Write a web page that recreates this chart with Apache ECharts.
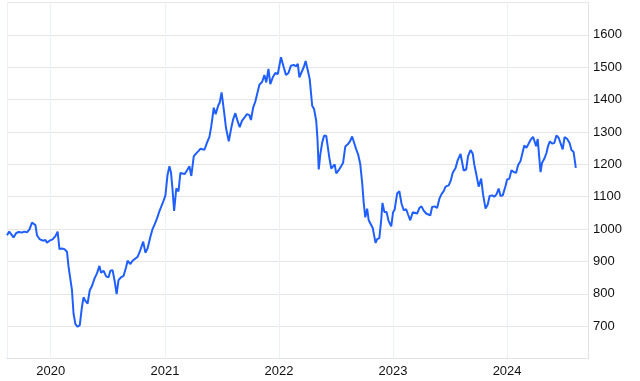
<!DOCTYPE html>
<html>
<head>
<meta charset="utf-8">
<script src="https://cdn.jsdelivr.net/npm/echarts@6/dist/echarts.min.js"></script>
<style>
html,body{margin:0;padding:0;background:#fff;}
#chart{width:640px;height:381px;}
</style>
</head>
<body>
<div id="chart"></div>
<script>
const dates = [
'2019-08-14','2019-08-21','2019-09-04','2019-09-12','2019-09-20','2019-09-26','2019-10-01','2019-10-08','2019-10-17','2019-10-25',
'2019-11-02','2019-11-07','2019-11-13','2019-11-18','2019-11-26','2019-12-07','2019-12-15','2019-12-20','2019-12-28',
'2020-01-07','2020-01-16','2020-01-23','2020-01-29','2020-02-06','2020-02-14','2020-02-22','2020-02-27','2020-03-04','2020-03-09',
'2020-03-14','2020-03-20','2020-03-27','2020-04-03','2020-04-10','2020-04-15','2020-04-21','2020-04-28','2020-05-05','2020-05-12',
'2020-05-20','2020-05-28','2020-06-05','2020-06-10','2020-06-18','2020-06-27','2020-07-04','2020-07-10','2020-07-17','2020-07-24',
'2020-07-30','2020-08-05','2020-08-13','2020-08-21','2020-08-29','2020-09-03','2020-09-12','2020-09-19','2020-09-28','2020-10-05',
'2020-10-12','2020-10-23','2020-10-30','2020-11-06','2020-11-15','2020-11-22','2020-11-29','2020-12-06','2020-12-15','2020-12-24',
'2021-01-02','2021-01-09','2021-01-15','2021-01-20','2021-01-25','2021-01-30','2021-02-06','2021-02-13','2021-02-19','2021-02-25',
'2021-03-05','2021-03-12','2021-03-20','2021-03-26','2021-04-03','2021-04-10','2021-04-17','2021-04-24','2021-04-30','2021-05-07',
'2021-05-15','2021-05-23','2021-05-29','2021-06-06','2021-06-12','2021-06-20','2021-06-25','2021-07-01','2021-07-08','2021-07-15',
'2021-07-24','2021-07-31','2021-08-07','2021-08-14','2021-08-21','2021-08-28','2021-09-04','2021-09-12','2021-09-20','2021-09-28',
'2021-10-03','2021-10-10','2021-10-17','2021-10-23','2021-10-30','2021-11-08','2021-11-15','2021-11-21','2021-11-28','2021-12-04',
'2021-12-12','2021-12-20','2021-12-28','2022-01-07','2022-01-16','2022-01-23','2022-01-31','2022-02-08','2022-02-17','2022-02-24',
'2022-03-02','2022-03-07','2022-03-13','2022-03-21','2022-03-27','2022-04-03','2022-04-09','2022-04-17','2022-04-23','2022-04-30',
'2022-05-04','2022-05-08','2022-05-13','2022-05-19','2022-05-25','2022-06-01','2022-06-06','2022-06-11','2022-06-17','2022-06-23',
'2022-06-28','2022-07-03','2022-07-11','2022-07-19','2022-07-25','2022-08-01','2022-08-09','2022-08-15','2022-08-23','2022-08-29',
'2022-09-05','2022-09-11','2022-09-18','2022-09-24','2022-09-29','2022-10-04','2022-10-10','2022-10-15','2022-10-21','2022-10-28',
'2022-11-01','2022-11-06','2022-11-11','2022-11-18','2022-11-24','2022-11-28','2022-12-04','2022-12-11','2022-12-17','2022-12-26',
'2023-01-01','2023-01-06','2023-01-14','2023-01-21','2023-01-28','2023-02-04','2023-02-12','2023-02-18','2023-02-25','2023-03-05',
'2023-03-11','2023-03-19','2023-03-26','2023-04-02','2023-04-09','2023-04-17','2023-04-23','2023-04-30','2023-05-06','2023-05-14',
'2023-05-22','2023-05-29','2023-06-05','2023-06-12','2023-06-18','2023-06-23','2023-06-28','2023-07-04','2023-07-11','2023-07-20',
'2023-07-27','2023-08-05','2023-08-10','2023-08-15','2023-08-23','2023-08-29','2023-09-06','2023-09-13','2023-09-18','2023-09-25',
'2023-10-02','2023-10-10','2023-10-16','2023-10-24','2023-10-31','2023-11-06','2023-11-14','2023-11-21','2023-11-28','2023-12-05',
'2023-12-11','2023-12-18','2023-12-27','2024-01-01','2024-01-08','2024-01-15','2024-01-22','2024-01-30','2024-02-05','2024-02-13',
'2024-02-19','2024-02-25','2024-03-03','2024-03-10','2024-03-18','2024-03-24','2024-03-28','2024-04-03','2024-04-08','2024-04-17',
'2024-04-22','2024-04-29','2024-05-06','2024-05-11','2024-05-17','2024-05-24','2024-05-31','2024-06-07','2024-06-14','2024-06-20',
'2024-06-27','2024-07-03','2024-07-11','2024-07-19','2024-07-25','2024-08-01','2024-08-08'
];
const values = [
981,992,974,987,991,997,989,992,990,999,
1020,1023,1012,981,969,964,966,958,964,
968,978,992,938,940,938,930,884,889,811,
739,706,698,703,760,789,778,770,811,824,
847,863,886,865,871,853,851,871,873,837,
799,842,851,855,881,902,892,902,909,914,
930,961,927,940,976,1000,1015,1032,1058,1079,
1103,1168,1194,1175,1121,1056,1126,1116,1173,1168,
1170,1181,1194,1164,1225,1233,1240,1248,1242,1245,
1266,1285,1318,1375,1355,1381,1391,1422,1370,1313,
1271,1308,1339,1358,1334,1315,1334,1344,1355,1352,
1337,1375,1394,1393,1446,1455,1476,1453,1495,1448,
1469,1482,1479,1531,1500,1476,1482,1505,1507,1503,
1510,1469,1471,1500,1519,1490,1464,1381,1371,1334,
1277,1184,1231,1267,1288,1288,1286,1220,1187,1189,
1200,1172,1182,1195,1205,1255,1262,1269,1286,1283,
1246,1231,1200,1143,1081,1036,1063,1027,1029,1003,
982,957,969,972,1029,1081,1053,1053,1027,1008,
1052,1060,1110,1117,1079,1058,1061,1045,1027,1052,
1047,1048,1065,1070,1057,1048,1050,1042,1068,1070,
1065,1093,1108,1117,1131,1125,1135,1148,1174,1189,
1213,1232,1235,1181,1184,1225,1244,1233,1199,1166,
1131,1156,1107,1063,1076,1102,1104,1100,1107,1125,
1102,1104,1133,1153,1155,1182,1176,1174,1197,1210,
1213,1258,1251,1264,1278,1285,1285,1256,1278,1176,
1205,1217,1235,1256,1271,1264,1266,1289,1282,1282,
1246,1284,1279,1266,1244,1238,1189
];
const xMin = '2019-08-14';
const xMax = '2024-09-16';
const yMin = 600, yMax = 1700, yStep = 100;

const chart = echarts.init(document.getElementById('chart'), null, {renderer:'canvas'});
chart.setOption({
  animation: false,
  backgroundColor: '#ffffff',
  grid: {left: 7, right: 52, top: 2.5, bottom: 22.5},
  xAxis: {
    type: 'time',
    min: xMin, max: xMax,
    splitNumber: 5,
    minInterval: 365 * 24 * 3600 * 1000,
    axisLine: {show: true, lineStyle: {color: '#e3e3e3', width: 1}},
    axisTick: {show: false},
    axisLabel: {
      color: '#111', fontSize: 13, fontFamily: 'Liberation Sans, Arial, sans-serif',
      margin: 6, formatter: '{yyyy}', hideOverlap: false
    },
    splitLine: {show: true, lineStyle: {color: '#edf1f5', width: 1}}
  },
  yAxis: {
    type: 'value',
    position: 'right',
    min: yMin, max: yMax, interval: yStep,
    axisLine: {show: true, lineStyle: {color: '#e3e3e3', width: 1}},
    axisTick: {show: false},
    axisLabel: {
      color: '#111', fontSize: 13, fontFamily: 'Liberation Sans, Arial, sans-serif',
      margin: 5, showMinLabel: false, showMaxLabel: false,
      formatter: function (v) { return String(v); }
    },
    splitLine: {show: true, lineStyle: {color: '#e6e6e6', width: 1}}
  },
  series: [{
    type: 'line',
    data: dates.map((d, i) => [d, values[i]]),
    showSymbol: false,
    symbol: 'none',
    lineStyle: {color: '#1f5fff', width: 2},
    itemStyle: {color: '#1f5fff'}
  }]
});
</script>
</body>
</html>
